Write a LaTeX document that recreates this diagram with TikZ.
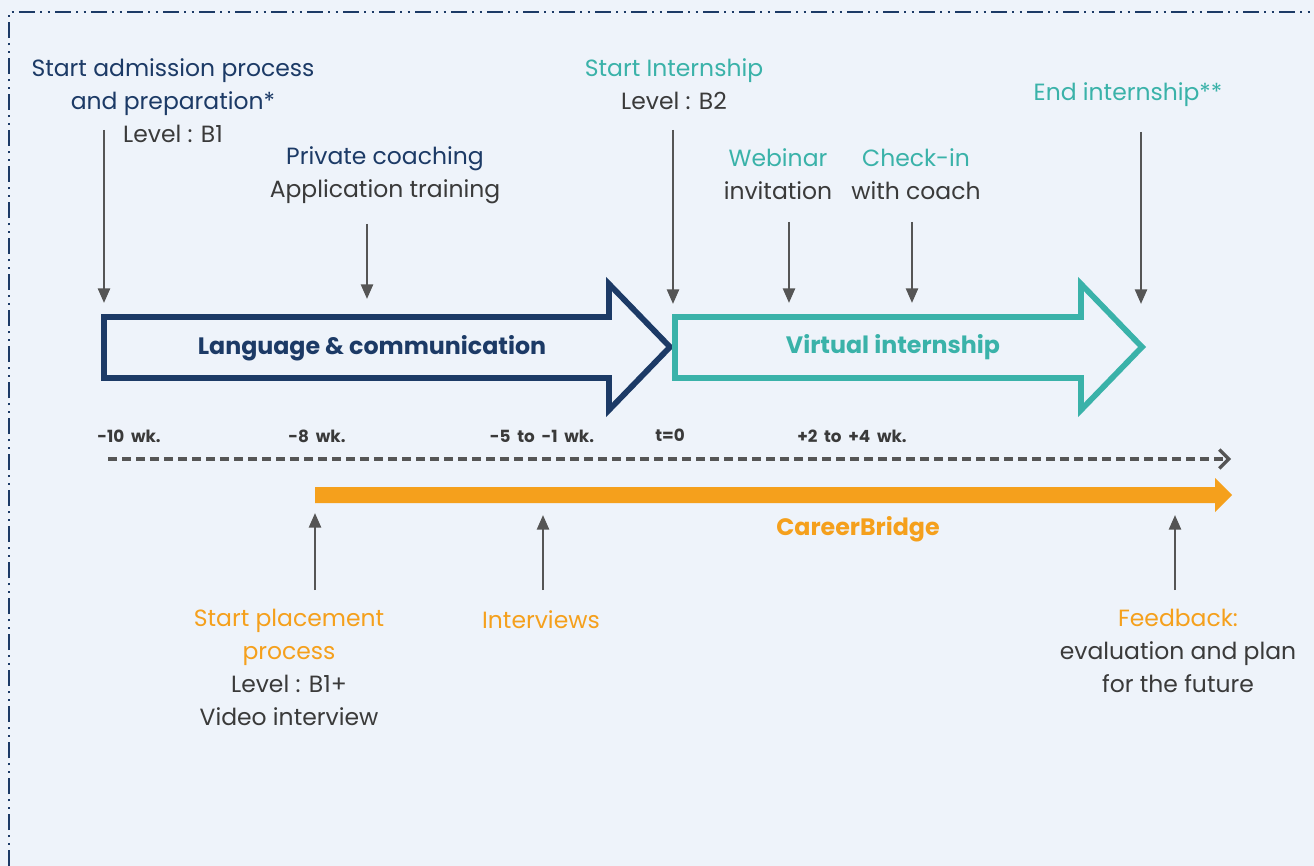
\documentclass[tikz,border=0pt]{standalone}
\usepackage{fontspec}
\setmainfont{Poppins}
\usetikzlibrary{arrows.meta}
\definecolor{bgc}{HTML}{EEF3FA}
\definecolor{navy}{HTML}{1C3A66}
\definecolor{teal}{HTML}{3AB2A9}
\definecolor{orng}{HTML}{F5A01C}
\definecolor{agray}{HTML}{555555}
\definecolor{tgray}{HTML}{3A3A3A}
\newcommand{\widesp}{\spaceskip=0.4em\relax}
\begin{document}
\begin{tikzpicture}[x=0.75pt,y=-0.75pt,
  lbl/.style={font=\fontsize{17.6}{24.75}\selectfont, align=center, inner sep=0pt, text=tgray},
  tick/.style={font=\bfseries\fontsize{12.6}{14}\selectfont, text=tgray, inner sep=0pt},
  bigtxt/.style={font=\bfseries\fontsize{17.8}{20}\selectfont},
  garrow/.style={draw=agray, line width=1.9pt, -{Triangle[length=11pt,width=9pt]}},
  big/.style={line width=4.3pt, line join=miter, miter limit=10}
]
\useasboundingbox (0,0) rectangle (1314,866);
\fill[bgc] (0,0) rectangle (1314,866);
\draw[navy, line width=1.6pt, dash pattern=on 12pt off 4pt on 1.5pt off 4pt on 1.5pt off 4pt] (9,866) -- (9,12) -- (1314,12);

% big arrows
\draw[big, navy] (104,317) -- (609,317) -- (609,284) -- (670,347) -- (609,410) -- (609,378) -- (104,378) -- cycle;
\draw[big, teal] (675,317) -- (1081,317) -- (1081,284) -- (1142,347) -- (1081,410) -- (1081,378) -- (675,378) -- cycle;
\node[bigtxt, text=navy] (lang) at (372,348) {Language \& communication};
\node[bigtxt, text=teal] (virt) at (893,347) {Virtual internship};

% timeline
\coordinate (ds) at (108,459);
\coordinate (de) at (1231,459);
\draw[agray, line width=3pt, dash pattern=on 7pt off 3.5pt, -{Straight Barb[length=7pt,width=14pt,line width=2.5pt]}] (ds) -- (de);
\fill[orng] (315,487) -- (1215,487) -- (1215,478) -- (1232,495) -- (1215,512) -- (1215,503) -- (315,503) -- cycle;
\node[bigtxt, text=orng] (cb) at (858,529) {CareerBridge};

\node[tick] (t1) at (129,436) {\widesp -10 wk.};
\node[tick] (t2) at (317,436) {\widesp -8 wk.};
\node[tick] (t3) at (542,436) {\widesp -5 to -1 wk.};
\node[tick] (t4) at (670,435) {t=0};
\node[tick] (t5) at (852,436) {\widesp +2 to +4 wk.};

% labels top
\node[lbl, anchor=north] (adm) at (173,58) {\textcolor{navy}{Start admission process}\\\textcolor{navy}{and preparation*}\\Level : B1};
\node[lbl, anchor=north] (coach) at (385,146) {\textcolor{navy}{Private coaching}\\Application training};
\node[lbl, anchor=north] (sint) at (674,58) {\textcolor{teal}{Start Internship}\\Level : B2};
\node[lbl, anchor=north] (eint) at (1128,82) {\textcolor{teal}{End internship**}};
\node[lbl, anchor=north] (web) at (778,148) {\textcolor{teal}{Webinar}\\invitation};
\node[lbl, anchor=north] (chk) at (916,148) {\textcolor{teal}{Check-in}\\with coach};

% labels bottom
\node[lbl, anchor=north] (plc) at (289,609) {\textcolor{orng}{Start placement}\\\textcolor{orng}{process}\\Level : B1+\\Video interview};
\node[lbl, anchor=north] (intv) at (541,610) {\textcolor{orng}{Interviews}};
\node[lbl, anchor=north] (fb) at (1178,609) {\textcolor{orng}{Feedback:}\\evaluation and plan\\for the future};

% gray arrows
\coordinate (a1s) at (104,130); \coordinate (a1e) at (104,303);
\coordinate (a2s) at (367,224); \coordinate (a2e) at (367,299);
\coordinate (a3s) at (673,130); \coordinate (a3e) at (673,304);
\coordinate (a4s) at (789,222); \coordinate (a4e) at (789,303);
\coordinate (a5s) at (912,222); \coordinate (a5e) at (912,303);
\coordinate (a6s) at (1141,132); \coordinate (a6e) at (1141,304);
\draw[garrow] (a1s) -- (a1e);
\draw[garrow] (a2s) -- (a2e);
\draw[garrow] (a3s) -- (a3e);
\draw[garrow] (a4s) -- (a4e);
\draw[garrow] (a5s) -- (a5e);
\draw[garrow] (a6s) -- (a6e);
\coordinate (b1s) at (315,590); \coordinate (b1e) at (315,513);
\coordinate (b2s) at (543,590); \coordinate (b2e) at (543,515);
\coordinate (b3s) at (1175,590); \coordinate (b3e) at (1175,515);
\draw[garrow] (b1s) -- (b1e);
\draw[garrow] (b2s) -- (b2e);
\draw[garrow] (b3s) -- (b3e);
\end{tikzpicture}
\end{document}
